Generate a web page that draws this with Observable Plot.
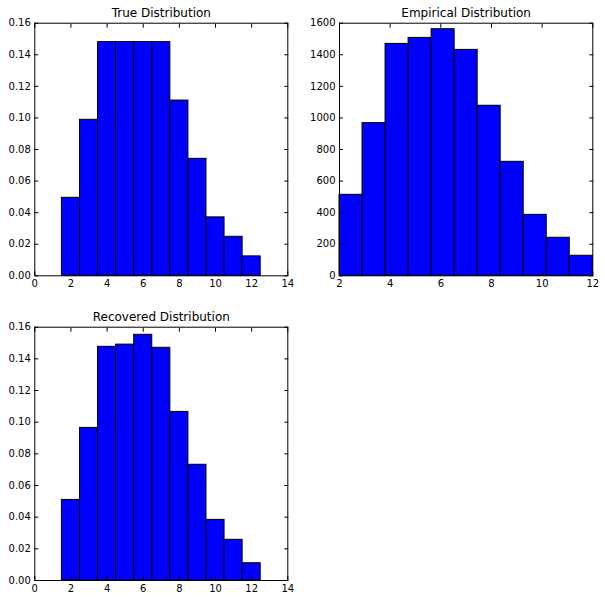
<!DOCTYPE html>
<html>
<head>
<meta charset="utf-8">
<script src="https://cdn.jsdelivr.net/npm/d3@7"></script>
<script src="https://cdn.jsdelivr.net/npm/@observablehq/plot@0.6"></script>
<style>
  html, body { margin: 0; padding: 0; background: #fff; }
  #wrap { position: relative; width: 605px; height: 601px; background: #fff; }
  .panel { position: absolute; }
  svg { overflow: visible; }
</style>
</head>
<body>
<div id="wrap">
  <div class="panel" id="p1" style="left:0;top:0"></div>
  <div class="panel" id="p2" style="left:300px;top:0"></div>
  <div class="panel" id="p3" style="left:0;top:300px"></div>
</div>
<script>
// ---- data ----
const outcomes = [2, 3, 4, 5, 6, 7, 8, 9, 10, 11, 12];
const trueProb = [0.0494, 0.0988, 0.148, 0.148, 0.148, 0.148, 0.111, 0.0741, 0.037, 0.0247, 0.0123];
const recoveredProb = [0.0509, 0.0964, 0.1476, 0.1490, 0.1552, 0.1470, 0.1065, 0.0731, 0.0383, 0.0257, 0.0109];
const empiricalCounts = [513, 967, 1469, 1507, 1562, 1431, 1077, 722, 386, 241, 127];
const empiricalRange = [2, 12];
const probXTicks = [0, 2, 4, 6, 8, 10, 12, 14];
const probYTicks = [0, 0.02, 0.04, 0.06, 0.08, 0.10, 0.12, 0.14, 0.16];
const countXTicks = [2, 4, 6, 8, 10, 12];
const countYTicks = [0, 200, 400, 600, 800, 1000, 1200, 1400, 1600];
const titles = ["True Distribution", "Empirical Distribution", "Recovered Distribution"];

// ---- tables ----
const trueData = outcomes.map((k, i) => ({x1: k - 0.5, x2: k + 0.5, y: trueProb[i]}));
const recData = outcomes.map((k, i) => ({x1: k - 0.5, x2: k + 0.5, y: recoveredProb[i]}));
const nb = empiricalCounts.length;
const bw = (empiricalRange[1] - empiricalRange[0]) / nb;
const empData = empiricalCounts.map((c, i) => ({x1: empiricalRange[0] + i * bw, x2: empiricalRange[0] + (i + 1) * bw, y: c}));

function panel({data, title, xDomain, yDomain, xTicks, yTicks, yFmt, width, height, margins}) {
  const tl = 4;
  return Plot.plot({
    width, height,
    marginLeft: margins[0], marginTop: margins[1], marginRight: margins[2], marginBottom: margins[3],
    style: {fontFamily: "DejaVu Sans", fontSize: "10px", color: "black", background: "transparent", overflow: "visible"},
    x: {domain: xDomain, ticks: xTicks},
    y: {domain: yDomain, ticks: yTicks, tickFormat: yFmt},
    marks: [
      Plot.rectY(data, {x1: "x1", x2: "x2", y: "y", fill: "#0000ff", stroke: "black", strokeWidth: 1, inset: 0}),
      Plot.frame({stroke: "black", strokeWidth: 1}),
      Plot.axisX(xTicks, {anchor: "bottom", tickSize: 0, tickPadding: 4, label: null, tickFormat: d => String(d)}),
      Plot.axisY(yTicks, {anchor: "left", tickSize: 0, tickPadding: 4, label: null, tickFormat: yFmt}),
      Plot.axisX(xTicks, {anchor: "bottom", tickSize: tl, dy: -tl, text: null, label: null}),
      Plot.axisX(xTicks, {anchor: "top", tickSize: tl, dy: tl, text: null, label: null}),
      Plot.axisY(yTicks, {anchor: "left", tickSize: tl, dx: tl, text: null, label: null}),
      Plot.axisY(yTicks, {anchor: "right", tickSize: tl, dx: -tl, text: null, label: null}),
      Plot.text([title], {frameAnchor: "top", dy: -6, lineAnchor: "bottom", fontSize: 12, fill: "black"})
    ]
  });
}

document.getElementById("p1").appendChild(panel({
  data: trueData, title: titles[0], xDomain: [0, 14], yDomain: [0, 0.16],
  xTicks: probXTicks, yTicks: probYTicks, yFmt: d3.format(".2f"),
  width: 300, height: 300, margins: [34.3, 22.7, 12.7, 24.7]
}));
document.getElementById("p2").appendChild(panel({
  data: empData, title: titles[1], xDomain: empiricalRange, yDomain: [0, 1600],
  xTicks: countXTicks, yTicks: countYTicks, yFmt: d => String(d),
  width: 305, height: 300, margins: [39, 22.7, 12.7, 24.7]
}));
document.getElementById("p3").appendChild(panel({
  data: recData, title: titles[2], xDomain: [0, 14], yDomain: [0, 0.16],
  xTicks: probXTicks, yTicks: probYTicks, yFmt: d3.format(".2f"),
  width: 300, height: 301, margins: [34.3, 26.7, 12.7, 21]
}));
</script>
</body>
</html>
